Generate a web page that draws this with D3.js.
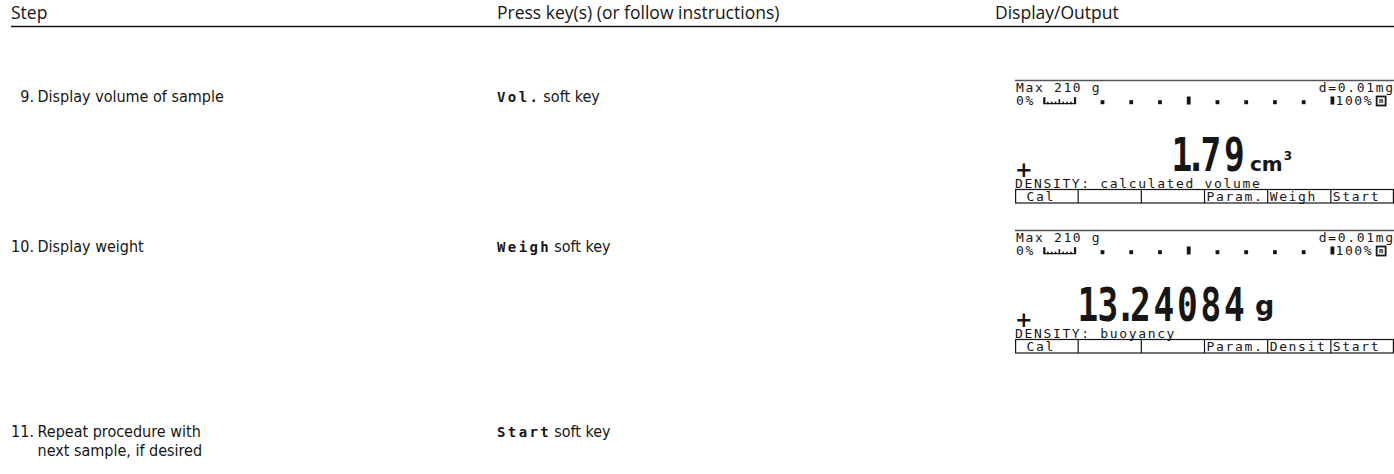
<!DOCTYPE html>
<html><head><meta charset="utf-8">
<script src="https://cdn.jsdelivr.net/npm/d3@7"></script>
<style>html,body{margin:0;padding:0;background:#fff;} svg{display:block} .pre{white-space:pre}</style>
</head><body><svg id="c" width="1394" height="474"></svg>
<script>
// ---- data ----
const headerLabels = ["Step", "Press key(s) (or follow instructions)", "Display/Output"];
const stepNumbers = ["9.", "10.", "11."];
const stepTexts = [["Display volume of sample"], ["Display weight"], ["Repeat procedure with", "next sample, if desired"]];
const stepKeys = ["Vol.", "Weigh", "Start"];
const keySuffix = "soft key";
const capacityLabels = ["Max 210 g", "Max 210 g"];
const readabilityLabels = ["d=0.01mg", "d=0.01mg"];
const readings = ["1.79", "13.24084"];
const readingUnits = ["cm", "g"];
const unitSuperscripts = ["3", ""];
const statusLines = ["DENSITY: calculated volume", "DENSITY: buoyancy"];
const softKeyLabels = [[" Cal", "", "", "Param.", "Weigh", "Start"], [" Cal", "", "", "Param.", "Densit", "Start"]];
const barTickPercents = [20, 30, 40, 50, 60, 70, 80, 90, 100];
const barMajorTicks = [50, 100];
const barEndLabels = ["0%", "100%"];

// ---- layout ----
const W = 1394;
const headFont = "'Open Sans','Noto Sans',sans-serif";
const bodyFont = "'Liberation Sans Narrow','DejaVu Sans Condensed',sans-serif";
const lcdFont = "'DejaVu Sans Mono','Liberation Mono',monospace";
const bigFont = "'DejaVu Sans Mono',monospace";
const unitFont = "'DejaVu Sans',sans-serif";
const ink = "#161616";

const svg = d3.select("#c");
const colX = d3.scaleOrdinal().domain([0, 1, 2]).range([11, 497, 995]);
const rowY = d3.scaleOrdinal().domain([0, 1, 2]).range([102, 252, 437]);
const lineGap = 18.5;
const bodyFs = 16;

// header
svg.selectAll("text.head").data(headerLabels).join("text")
  .attr("class", "head")
  .attr("x", (d, i) => colX(i)).attr("y", 19)
  .attr("font-family", headFont).attr("font-size", 17.5).attr("fill", ink)
  .text(d => d);
svg.append("line").attr("x1", 11).attr("x2", W).attr("y1", 26.5).attr("y2", 26.5)
  .attr("stroke", ink).attr("stroke-width", 1.6);

// steps
stepNumbers.forEach((n, i) => {
  svg.append("text").attr("x", 34).attr("y", rowY(i)).attr("text-anchor", "end")
    .attr("font-family", bodyFont).attr("font-size", bodyFs).attr("fill", ink).text(n);
  stepTexts[i].forEach((t, j) => {
    svg.append("text").attr("x", 37.5).attr("y", rowY(i) + j * lineGap)
      .attr("font-family", bodyFont).attr("font-size", bodyFs).attr("fill", ink).text(t);
  });
  const k = svg.append("text").attr("x", colX(1)).attr("y", rowY(i)).attr("fill", ink);
  k.append("tspan").attr("font-family", lcdFont).attr("font-weight", "bold").attr("font-size", 14)
    .attr("letter-spacing", 2.4).text(stepKeys[i]);
  k.append("tspan").attr("font-family", bodyFont).attr("font-size", bodyFs).attr("dx", 3).text(keySuffix);
});

// displays (modelled as a 240-dot wide LCD)
const lcdLeft = 1015, lcdW = W - lcdLeft;
const dots = d3.scaleLinear().domain([0, 240]).range([0, lcdW]);   // LCD dot -> px
const displayTops = [80, 230];
const xBar = d3.scaleLinear().domain([0, 100]).range([dots(19), dots(201)]);
const keyBand = d3.scaleBand().domain(d3.range(6)).range([0, lcdW]);
const lcdFs = 13, lcdLs = dots(6) - 0.602 * 13;

function layoutReading(str, inkRight, pitch, dotW, fs, sx) {
  const adv = 0.602 * fs * sx, inkR = 0.52 * fs * sx;
  const xs = new Array(str.length);
  let cursor = inkRight - inkR + pitch;
  for (let k = str.length - 1; k >= 0; k--) {
    const c = str[k];
    if (c === ".") { cursor -= dotW; xs[k] = cursor + dotW / 2 - adv / 2; }
    else { cursor -= pitch; xs[k] = cursor + (c === "1" ? 0.1 * fs * sx : 0); }
  }
  return xs.map(x => x / sx);
}

displayTops.forEach((top, i) => {
  const g = svg.append("g").attr("transform", `translate(${lcdLeft},${top})`);
  g.append("line").attr("x1", 0).attr("x2", lcdW).attr("y1", 0.5).attr("y2", 0.5)
    .attr("stroke", "#555").attr("stroke-width", 1.3);

  const lcdText = (x, y, s, anchor) => g.append("text").attr("x", x).attr("y", y)
    .attr("text-anchor", anchor || "start").attr("class", "pre")
    .attr("font-family", lcdFont).attr("font-size", lcdFs).attr("letter-spacing", lcdLs)
    .attr("fill", ink).text(s);

  lcdText(1, 12, capacityLabels[i]);
  lcdText(lcdW + lcdLs - 1, 12, readabilityLabels[i], "end");
  lcdText(1, 25, barEndLabels[0]);
  lcdText(xBar(100) + 3, 25, barEndLabels[1]);

  // mini ruler 0..10 %
  const r0 = xBar(0) - 1, r1 = xBar(10) + 1;
  g.append("rect").attr("x", r0).attr("y", 23).attr("width", r1 - r0).attr("height", 1.2).attr("fill", ink);
  const rticks = d3.range(r0, r1 + 0.1, (r1 - r0) / 8);
  rticks.forEach((x, j) => {
    const tall = j === 0 || j === rticks.length - 1;
    const mid = j === 4;
    const h = tall ? 7 : (mid ? 5 : 2.5);
    g.append("rect").attr("x", x - 0.8).attr("y", 24.2 - h).attr("width", tall ? 2.2 : 1.6).attr("height", h).attr("fill", ink);
  });
  // dots
  g.selectAll("rect.dot").data(barTickPercents).join("rect").attr("class", "dot")
    .attr("x", d => xBar(d) - 1.9)
    .attr("y", d => barMajorTicks.includes(d) ? 16.5 : 20.2)
    .attr("width", 3.8)
    .attr("height", d => barMajorTicks.includes(d) ? 8 : 4)
    .attr("fill", ink);
  // icon
  g.append("rect").attr("x", dots(229)).attr("y", 16.5).attr("width", 9).attr("height", 9)
    .attr("fill", "#fff").attr("stroke", ink).attr("stroke-width", 1.8);
  g.append("text").attr("x", dots(229) + 4.5).attr("y", 22.5).attr("text-anchor", "middle")
    .attr("font-family", lcdFont).attr("font-size", 7).attr("font-weight", "bold").attr("fill", ink).text("m");

  // plus sign
  g.append("text").attr("x", 0).attr("y", 97).attr("font-family", unitFont).attr("font-weight", "bold")
    .attr("font-size", 21).attr("fill", ink).text("+");

  // big reading (condensed block digits)
  const bigFs = 46, sx = 0.75;
  const xs = layoutReading(readings[i], 227, 23.5, 9, bigFs, sx);
  g.append("text").attr("transform", `scale(${sx},1)`).attr("x", xs.join(" ")).attr("y", 91)
    .attr("font-family", bigFont).attr("font-weight", "bold").attr("font-size", bigFs)
    .attr("fill", ink).text(readings[i]);

  // unit
  const u = g.append("text").attr("x", i === 0 ? 235 : 240).attr("y", i === 0 ? 91 : 85)
    .attr("font-family", unitFont).attr("font-weight", "bold")
    .attr("font-size", i === 0 ? 20 : 27).attr("fill", ink);
  u.append("tspan").text(readingUnits[i]);
  if (unitSuperscripts[i]) u.append("tspan").attr("font-size", 12).attr("dy", -11).attr("dx", 1).text(unitSuperscripts[i]);

  // status line
  lcdText(0, 108, statusLines[i]);

  // soft keys
  g.append("rect").attr("x", 0.6).attr("y", 109.5).attr("width", lcdW - 1.2).attr("height", 13.5)
    .attr("fill", "none").attr("stroke", ink).attr("stroke-width", 1.2);
  g.selectAll("line.div").data(d3.range(1, 6)).join("line").attr("class", "div")
    .attr("x1", d => keyBand(d)).attr("x2", d => keyBand(d)).attr("y1", 109.5).attr("y2", 123)
    .attr("stroke", ink).attr("stroke-width", 1.2);
  g.selectAll("text.key").data(softKeyLabels[i]).join("text").attr("class", "key pre")
    .attr("x", (d, k) => keyBand(k) + 2).attr("y", 120.5)
    .attr("font-family", lcdFont).attr("font-size", lcdFs).attr("letter-spacing", lcdLs)
    .attr("fill", ink).text(d => d);
});
</script></body></html>
